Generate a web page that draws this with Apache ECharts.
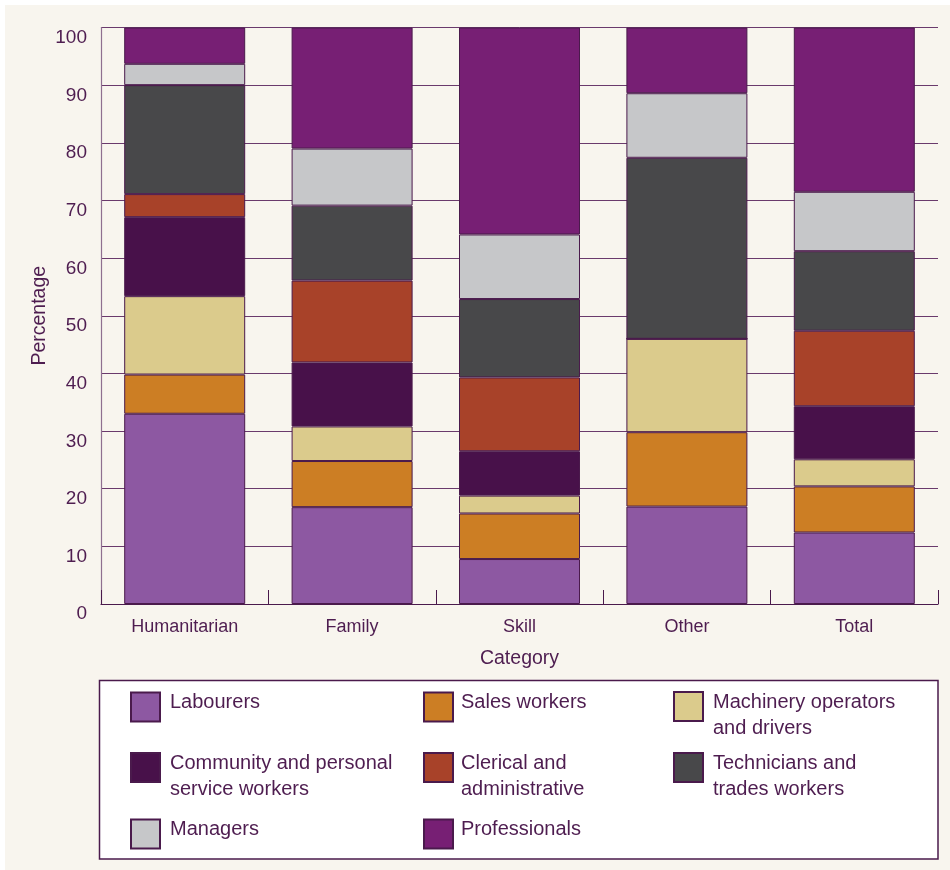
<!DOCTYPE html>
<html>
<head>
<meta charset="utf-8">
<script src="https://cdn.jsdelivr.net/npm/echarts@6/dist/echarts.min.js"></script>
<style>
  html, body { margin: 0; padding: 0; background: #ffffff; }
  #panel { position: absolute; left: 5px; top: 5px; width: 945px; height: 865px; background: #F8F5EE; }
  #chart { position: absolute; left: 0; top: 0; width: 950px; height: 870px; }
</style>
</head>
<body>
<div id="panel"></div>
<div id="chart"></div>
<script>
// ---- data ----
const categories = ['Humanitarian', 'Family', 'Skill', 'Other', 'Total'];
const seriesNames = [
  'Labourers', 'Sales workers', 'Machinery operators and drivers',
  'Community and personal service workers', 'Clerical and administrative',
  'Technicians and trades workers', 'Managers', 'Professionals'
];
const legendLines = [
  ['Labourers'], ['Sales workers'], ['Machinery operators', 'and drivers'],
  ['Community and personal', 'service workers'], ['Clerical and', 'administrative'],
  ['Technicians and', 'trades workers'], ['Managers'], ['Professionals']
];
const labourers     = [33.0, 16.8, 7.8, 16.9, 12.4];
const salesWorkers  = [6.8, 8.0, 7.9, 12.9, 8.0];
const machinery     = [13.6, 6.0, 3.1, 16.2, 4.7];
const community     = [13.7, 11.1, 7.7, 0, 9.2];
const clerical      = [4.0, 14.2, 12.8, 0, 13.1];
const technicians   = [18.9, 13.0, 13.6, 31.4, 13.8];
const managers      = [3.7, 9.9, 11.2, 11.2, 10.3];
const professionals = [6.3, 21.0, 35.9, 11.4, 28.5];
const yTicks = [0, 10, 20, 30, 40, 50, 60, 70, 80, 90, 100];

const values = [labourers, salesWorkers, machinery, community, clerical, technicians, managers, professionals];
const colors = ['#8D58A2', '#CC7E24', '#DBCB8C', '#48114A', '#A84229', '#48484A', '#C6C7C9', '#771F74'];

const TEXT = '#4E1D50';
const FONT = '"Liberation Sans", Arial, Helvetica, sans-serif';

const chart = echarts.init(document.getElementById('chart'), null, { renderer: 'canvas' });

const series = seriesNames.map((name, i) => ({
  name: name,
  type: 'bar',
  stack: 'total',
  barWidth: 121,
  data: values[i],
  itemStyle: { color: colors[i], borderColor: '#4A1A4C', borderWidth: 1 },
  emphasis: { disabled: true }
}));

// legend grid: columns x, rows icon-top y
const colX = [130, 423, 673];
const padL = [5, 3, 5];
const rowY = [692, 753, 819];
const legends = seriesNames.map((name, i) => {
  const col = i % 3, row = Math.floor(i / 3);
  const lines = legendLines[i];
  const twoLine = lines.length > 1;
  const text = twoLine
    ? '{s|\u00a0}\n' + lines.map(l => '{a|' + l + '}').join('\n')
    : '{a|' + lines[0] + '}\n{t|\u00a0}';
  return {
    show: true,
    left: colX[col],
    top: rowY[row] + (twoLine ? -12 : -0.5),
    padding: 0,
    itemWidth: 29,
    itemHeight: 29,
    selectedMode: false,
    data: [{ name: name, icon: 'rect' }],
    formatter: () => text,
    textStyle: {
      color: TEXT, fontSize: 20, fontFamily: FONT,
      padding: [0, 0, 0, padL[col]],
      rich: {
        a: { color: TEXT, fontSize: 20, fontFamily: FONT, lineHeight: 26 },
        s: { fontSize: 1, lineHeight: 18 },
        t: { fontSize: 1, lineHeight: 10 }
      }
    }
  };
});

const option = {
  animation: false,
  backgroundColor: 'transparent',
  textStyle: { fontFamily: FONT },
  grid: { left: 101, right: 12, top: 27.5, bottom: 266, containLabel: false },
  xAxis: {
    type: 'category',
    data: categories,
    name: 'Category',
    nameLocation: 'middle',
    nameGap: 45,
    nameTextStyle: { color: TEXT, fontSize: 19.5, fontFamily: FONT },
    axisLine: { show: true, lineStyle: { color: '#4A1A4C', width: 1.2 } },
    axisTick: { show: true, inside: true, length: 14, lineStyle: { color: '#4A1A4C', width: 1 } },
    axisLabel: { color: TEXT, fontSize: 18, fontFamily: FONT, margin: 14 }
  },
  yAxis: {
    type: 'value',
    min: 0, max: 100, interval: 10,
    name: 'Percentage',
    nameLocation: 'middle',
    nameGap: 51,
    nameMoveOverlap: false,
    nameTextStyle: { color: TEXT, fontSize: 19.5, fontFamily: FONT },
    axisLine: { show: true, lineStyle: { color: '#8F6F90', width: 1.2 } },
    axisTick: { show: false },
    splitLine: { show: true, lineStyle: { color: '#6A3A6C', width: 1 } },
    axisLabel: {
      color: TEXT, fontSize: 19, fontFamily: FONT, margin: 14,
      verticalAlign: 'top', lineHeight: 20.5,
      formatter: v => (yTicks.indexOf(v) >= 0 ? String(v) : '')
    }
  },
  legend: legends,
  graphic: [{
    type: 'rect',
    z: 0,
    shape: { x: 99.5, y: 680.5, width: 838.5, height: 178.5 },
    style: { fill: '#FFFFFF', stroke: '#4A1A4C', lineWidth: 1.5 },
    silent: true
  }],
  series: series
};

chart.setOption(option);
</script>
</body>
</html>
